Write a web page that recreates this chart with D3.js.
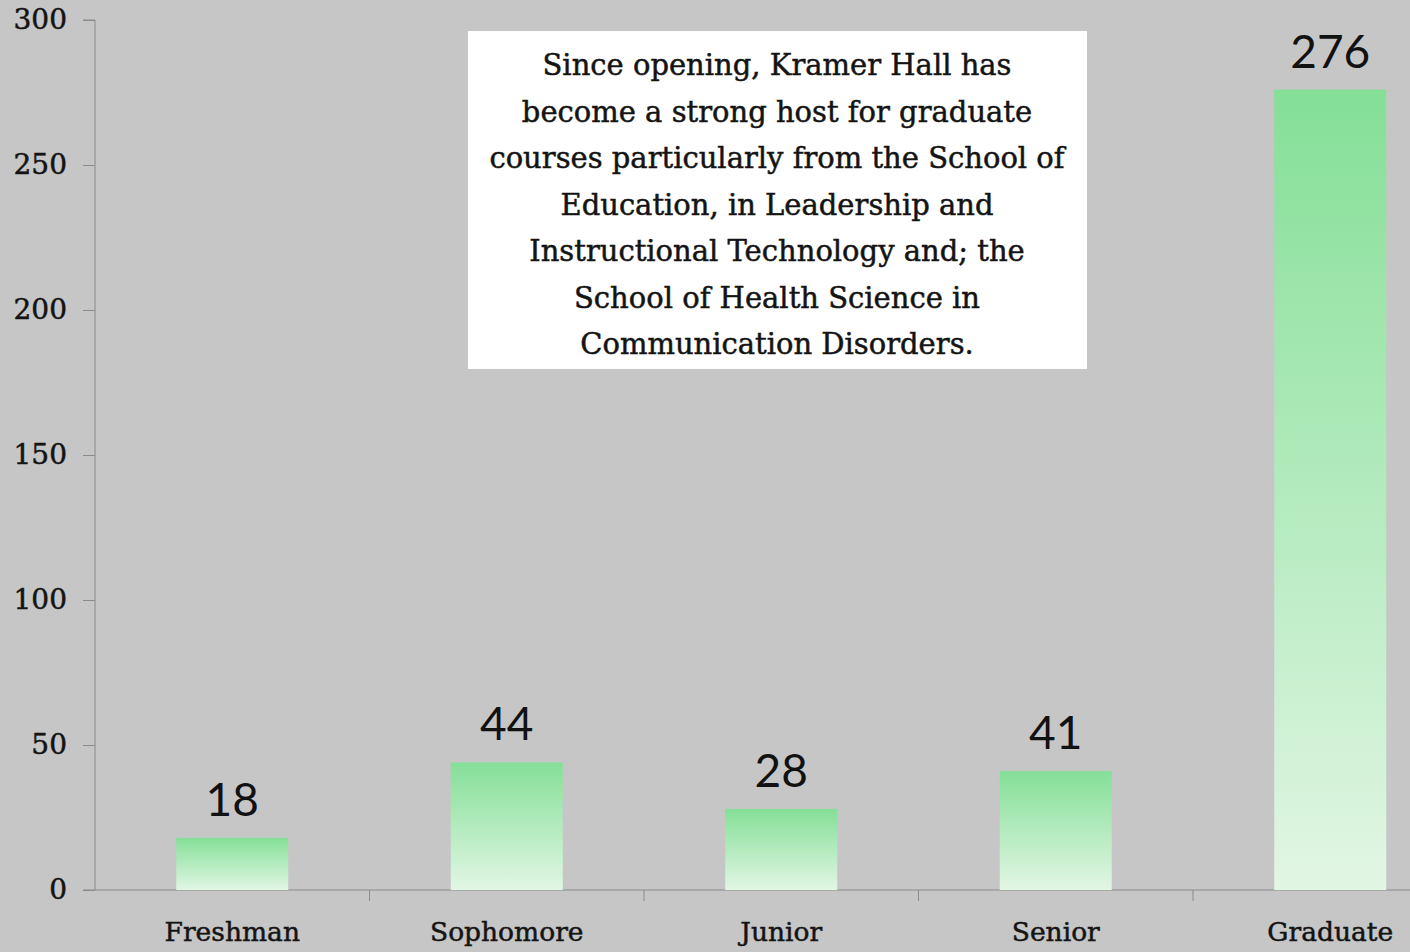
<!DOCTYPE html>
<html><head><meta charset="utf-8">
<script src="https://cdn.jsdelivr.net/npm/d3@7"></script>
<style>body{margin:0;background:#c6c6c6;overflow:hidden}</style>
</head><body><svg id="c" width="1410" height="952"></svg>
<script>
const categories = ["Freshman","Sophomore","Junior","Senior","Graduate"];
const values = [18,44,28,41,276];
const yTicks = [0,50,100,150,200,250,300];
const noteLines = ["Since opening, Kramer Hall has","become a strong host for graduate","courses particularly from the School of","Education, in Leadership and","Instructional Technology and; the","School of Health Science in","Communication Disorders."];

const svg = d3.select("#c");
svg.append("rect").attr("width",1410).attr("height",952).attr("fill","#c6c6c6");
const defs = svg.append("defs");
const g1 = defs.append("linearGradient").attr("id","gr").attr("x1",0).attr("y1",0).attr("x2",0).attr("y2",1);
g1.append("stop").attr("offset","0%").attr("stop-color","#84df97");
g1.append("stop").attr("offset","100%").attr("stop-color","#e2f6e4");

const x0 = 95, bandW = 274.5;
const x = d3.scaleBand().domain(categories).range([x0, x0 + bandW*categories.length]).paddingInner(0).paddingOuter(0);
const y = d3.scaleLinear().domain([0,300]).range([890,20]);
const serif = "'DejaVu Serif', serif";
const sans = "Lato, 'Open Sans', sans-serif";

// y axis
const ya = svg.append("g").attr("transform",`translate(${x0},0)`)
  .call(d3.axisLeft(y).tickValues(yTicks).tickSize(12).tickPadding(16));
ya.select(".domain").attr("stroke","#8a8a8a").attr("d",`M-12,20H0V890`);
ya.selectAll(".tick line").attr("stroke","#8a8a8a");
ya.selectAll(".tick text").attr("font-family",serif).attr("font-size",28).attr("fill","#141414")
  .attr("stroke","#141414").attr("stroke-width",0.5).attr("dy","0.3em");

// x axis
const xa = svg.append("g").attr("transform",`translate(0,890)`)
  .call(d3.axisBottom(x).tickSize(0).tickPadding(32));
xa.select(".domain").attr("stroke","#8a8a8a").attr("d",`M83,0H1410`);
xa.selectAll(".tick text").attr("font-family",serif).attr("font-size",26.5).attr("fill","#141414")
  .attr("stroke","#141414").attr("stroke-width",0.5);
svg.append("g").selectAll("line").data(categories.slice(1)).join("line")
  .attr("x1",d=>x(d)).attr("x2",d=>x(d)).attr("y1",890).attr("y2",901)
  .attr("stroke","#8a8a8a");

// bars
const bw = 112;
svg.append("g").selectAll("rect").data(values).join("rect")
  .attr("x",(d,i)=>x(categories[i])+x.bandwidth()/2-bw/2)
  .attr("width",bw)
  .attr("y",d=>y(d)).attr("height",d=>y(0)-y(d))
  .attr("fill","url(#gr)");

// value labels
svg.append("g").selectAll("text").data(values).join("text")
  .attr("x",(d,i)=>x(categories[i])+x.bandwidth()/2)
  .attr("y",d=>y(d)-22)
  .attr("text-anchor","middle").attr("font-family",sans).attr("font-size",46)
  .attr("fill","#111").text(d=>d);

// note box
svg.append("rect").attr("x",468).attr("y",31).attr("width",619).attr("height",338).attr("fill","#ffffff");
svg.append("g").selectAll("text").data(noteLines).join("text")
  .attr("x",777).attr("y",(d,i)=>75+i*46.5)
  .attr("text-anchor","middle").attr("font-family",serif).attr("font-size",29)
  .attr("fill","#141414").attr("stroke","#141414").attr("stroke-width",0.5).text(d=>d);
</script></body></html>
